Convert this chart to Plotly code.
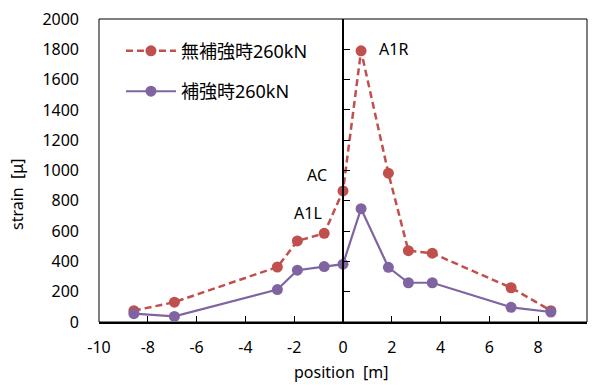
import plotly.graph_objects as go

pos_red = [-8.57, -6.91, -2.69, -1.87, -0.77, 0.0, 0.74, 1.86, 2.68, 3.66, 6.89, 8.52]
val_red = [75, 131, 363, 535, 585, 865, 1790, 982, 471, 454, 226, 75]
pos_pur = [-8.57, -6.91, -2.69, -1.87, -0.77, 0.0, 0.74, 1.86, 2.68, 3.66, 6.89, 8.52]
val_pur = [55, 37, 214, 342, 366, 382, 748, 361, 259, 259, 97, 66]
name_red = "無補強時260kN"
name_pur = "補強時260kN"
labels = ["A1R", "AC", "A1L"]
label_x = [2.05, -1.07, -1.43]
label_y = [1800, 968, 722]
x_ticks = [-10, -8, -6, -4, -2, 0, 2, 4, 6, 8, 10]
x_ticktext = ["-10", "-8", "-6", "-4", "-2", "0", "2", "4", "6", "8", "10"]
x_title = "position\u00a0\u00a0[m]"
y_title = "strain\u00a0\u00a0[μ]"

FONT = "Noto Sans, Noto Sans CJK JP, sans-serif"
RED = "#C0504D"
PUR = "#8064A2"

fig = go.Figure()
fig.add_trace(go.Scatter(x=pos_red, y=val_red, mode="lines+markers", name=name_red,
                         legendgroup="a",
                         line=dict(color=RED, width=2.5, dash="7px,4px"),
                         marker=dict(color=RED, size=11)))
fig.add_trace(go.Scatter(x=pos_pur, y=val_pur, mode="lines+markers", name=name_pur,
                         legendgroup="b",
                         line=dict(color=PUR, width=2.2),
                         marker=dict(color=PUR, size=11)))
fig.add_trace(go.Scatter(x=[], y=[], yaxis="y2", showlegend=False, hoverinfo="skip"))

for t, x, y in zip(labels, label_x, label_y):
    fig.add_annotation(x=x, y=y, text=t, showarrow=False,
                       font=dict(family=FONT, size=16, color="black"))

# axis titles
fig.add_annotation(xref="paper", yref="paper", x=-0.168, y=0.4226, text=y_title,
                   textangle=-90, showarrow=False, xanchor="center", yanchor="middle",
                   font=dict(family=FONT, size=16, color="black"))
fig.add_annotation(xref="paper", yref="paper", x=0.497, y=-0.165, text=x_title,
                   showarrow=False, xanchor="center", yanchor="middle",
                   font=dict(family=FONT, size=16, color="black"))

fig.add_shape(type="rect", xref="paper", yref="paper", x0=0, y0=0, x1=1, y1=1,
              line=dict(color="black", width=1), layer="below")

fig.update_layout(
    width=595, height=387,
    margin=dict(l=99, r=8, t=12, b=65),
    paper_bgcolor="white", plot_bgcolor="white",
    font=dict(family=FONT, size=16, color="black"),
    showlegend=True,
    legend=dict(x=0.045, y=0.955, xanchor="left", yanchor="top",
                bgcolor="rgba(0,0,0,0)", font=dict(family=FONT, size=18),
                tracegroupgap=14, traceorder="grouped", itemwidth=50),
    xaxis=dict(range=[-10, 10], tickvals=x_ticks, ticktext=x_ticktext, domain=[0, 1],
               showline=True, linecolor="black", linewidth=2,
               ticks="inside", ticklen=6, tickcolor="black", tickwidth=1,
               showgrid=False, zeroline=False, ticklabelstandoff=10,
               tickfont=dict(size=16)),
    yaxis=dict(range=[0, 2000], dtick=200, showline=False, ticks="",
               showgrid=False, zeroline=False, ticklabelstandoff=19,
               tickfont=dict(size=16)),
    yaxis2=dict(range=[0, 2000], dtick=200, overlaying="y", anchor="free",
                position=0.5, side="left", showline=True, linecolor="black",
                linewidth=2, ticks="inside", ticklen=6, tickcolor="black",
                tickwidth=1, showticklabels=False, showgrid=False, zeroline=False),
)

fig.write_html("out.html")
